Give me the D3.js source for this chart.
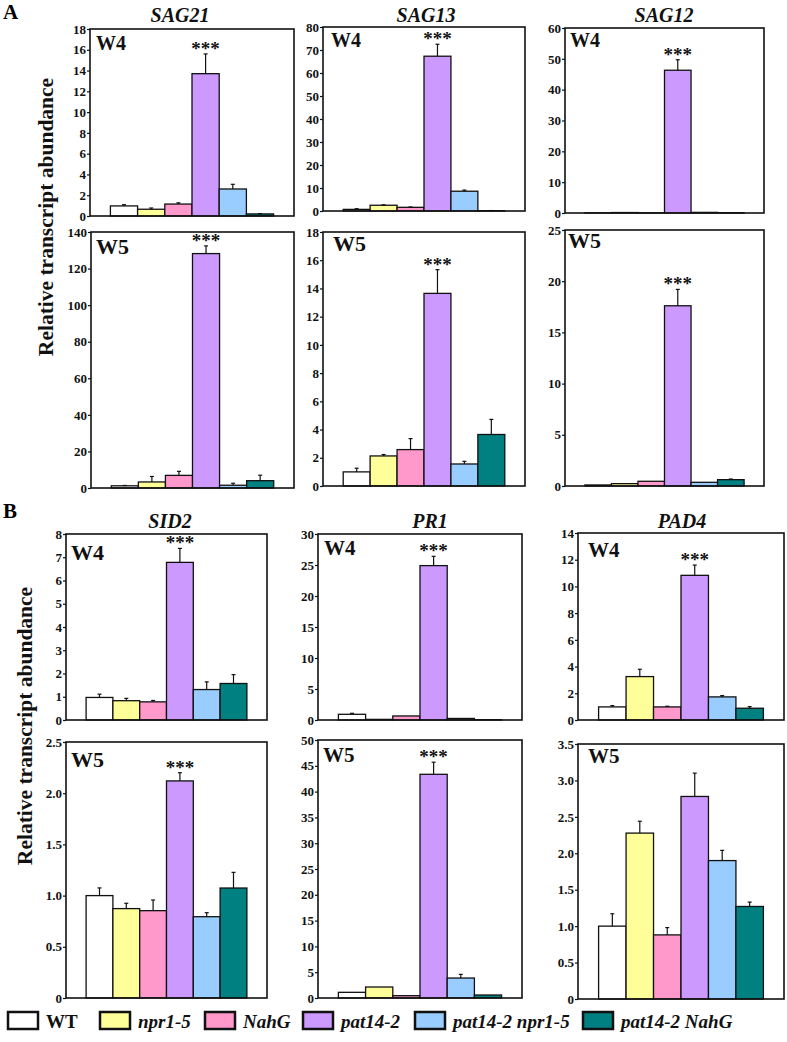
<!DOCTYPE html>
<html>
<head>
<meta charset="utf-8">
<script src="https://cdn.jsdelivr.net/npm/d3@7"></script>
<style>
  html, body { margin: 0; padding: 0; background: #fff; }
  svg { display: block; font-family: "Liberation Serif", "Times New Roman", serif; }
</style>
</head>
<body>
<div id="chart"></div>
<script>
// ---- Genotypes / legend ----
const genotypes = ['WT', 'npr1-5', 'NahG', 'pat14-2', 'pat14-2 npr1-5', 'pat14-2 NahG'];
const genotypeColors = ['#FFFFFF', '#FFFF99', '#FF99CC', '#CC99FF', '#99CCFF', '#008080'];

// ---- Panel A : senescence genes ----
const sag21W4 = [0.97, 0.65, 1.15, 13.7, 2.6, 0.2];
const sag21W4Err = [0.12, 0.12, 0.12, 1.9, 0.45, 0.03];
const sag13W4 = [0.7, 2.5, 1.6, 67.3, 8.6, 0.15];
const sag13W4Err = [0.3, 0.2, 0.15, 5.2, 0.5, 0.05];
const sag12W4 = [0.03, 0.15, 0.05, 46.3, 0.2, 0.1];
const sag12W4Err = [0, 0, 0, 3.4, 0, 0];

const sag21W5 = [1.2, 3.3, 6.9, 128.2, 1.5, 4.0];
const sag21W5Err = [0.2, 3.0, 2.2, 4.2, 1.1, 3.0];
const sag13W5 = [1.0, 2.13, 2.58, 13.65, 1.56, 3.65];
const sag13W5Err = [0.26, 0.1, 0.78, 1.68, 0.19, 1.07];
const sag12W5 = [0.1, 0.23, 0.46, 17.6, 0.36, 0.62];
const sag12W5Err = [0, 0, 0, 1.6, 0, 0.06];

// ---- Panel B : SA pathway genes ----
const sid2W4 = [0.97, 0.83, 0.78, 6.78, 1.31, 1.57];
const sid2W4Err = [0.14, 0.1, 0.06, 0.6, 0.33, 0.38];
const pr1W4 = [0.92, 0.1, 0.65, 24.9, 0.25, 0.05];
const pr1W4Err = [0.16, 0, 0, 1.5, 0, 0];
const pad4W4 = [0.98, 3.25, 0.98, 10.83, 1.73, 0.88];
const pad4W4Err = [0.1, 0.55, 0.05, 0.77, 0.1, 0.12];

const sid2W5 = [1.0, 0.873, 0.853, 2.12, 0.794, 1.074];
const sid2W5Err = [0.075, 0.052, 0.104, 0.08, 0.039, 0.153];
const pr1W5 = [1.1, 2.13, 0.45, 43.35, 3.87, 0.58];
const pr1W5Err = [0, 0, 0, 2.35, 0.71, 0];
const pad4W5 = [1.0, 2.277, 0.88, 2.78, 1.9, 1.27];
const pad4W5Err = [0.17, 0.163, 0.1, 0.32, 0.14, 0.06];

// ---- Axis settings per panel ----
const yMaxes = [18, 80, 60, 140, 18, 25, 8, 30, 14, 2.5, 50, 3.5];
const yTickSteps = [2, 10, 10, 20, 2, 5, 1, 5, 2, 0.5, 5, 0.5];
const panelGenes = ['SAG21', 'SAG13', 'SAG12', 'SAG21', 'SAG13', 'SAG12', 'SID2', 'PR1', 'PAD4', 'SID2', 'PR1', 'PAD4'];
const panelWeeks = ['W4', 'W4', 'W4', 'W5', 'W5', 'W5', 'W4', 'W4', 'W4', 'W5', 'W5', 'W5'];
const panelValues = [sag21W4, sag13W4, sag12W4, sag21W5, sag13W5, sag12W5, sid2W4, pr1W4, pad4W4, sid2W5, pr1W5, pad4W5];
const panelErrors = [sag21W4Err, sag13W4Err, sag12W4Err, sag21W5Err, sag13W5Err, sag12W5Err,
                     sid2W4Err, pr1W4Err, pad4W4Err, sid2W5Err, pr1W5Err, pad4W5Err];
const starIndex = 3; // pat14-2 marked ***
const panelStars = [true, true, true, true, true, true, true, true, true, true, true, false];

// ---- Layout (pixel boxes) ----
const layout = [
  { x: 90,  y: 29,  w: 204, h: 187, lx: 6,  ly: 21, ls: 20 },
  { x: 323, y: 27,  w: 202, h: 184, lx: 8,  ly: 20, ls: 20 },
  { x: 565, y: 28,  w: 199, h: 185, lx: 5,  ly: 19, ls: 20 },
  { x: 91,  y: 232, w: 203, h: 256, lx: 5,  ly: 22, ls: 22 },
  { x: 323, y: 232, w: 202, h: 254, lx: 10, ly: 19, ls: 22 },
  { x: 565, y: 230, w: 199, h: 256, lx: 3,  ly: 18, ls: 22 },
  { x: 66,  y: 534, w: 201, h: 186, lx: 5,  ly: 26, ls: 22 },
  { x: 318, y: 534, w: 204, h: 186, lx: 6,  ly: 21, ls: 21 },
  { x: 578, y: 533, w: 206, h: 187, lx: 10, ly: 24, ls: 21 },
  { x: 66,  y: 742, w: 201, h: 256, lx: 5,  ly: 25, ls: 22 },
  { x: 318, y: 740, w: 204, h: 258, lx: 5,  ly: 22, ls: 21 },
  { x: 578, y: 744, w: 206, h: 255, lx: 10, ly: 19, ls: 21 },
];
// gene title centres (x) and baselines (y), only top row of each block
const titlePos = [
  { i: 0, x: 180, y: 22 }, { i: 1, x: 426, y: 22 }, { i: 2, x: 664, y: 22 },
  { i: 6, x: 170, y: 528 }, { i: 7, x: 430, y: 528 }, { i: 8, x: 682, y: 528 },
];
const legendX = [8, 100, 205, 303, 415, 583];

const width = 787, height = 1042;

const svg = d3.select('#chart')
  .append('svg')
  .attr('width', width)
  .attr('height', height)
  .attr('viewBox', [0, 0, width, height]);

svg.append('rect').attr('width', width).attr('height', height).attr('fill', '#fff');

// ---- One bar panel ----
function drawPanel(i) {
  const box = layout[i];
  const values = panelValues[i];
  const errs = panelErrors[i];
  const rows = genotypes.map((name, k) => ({ name, value: values[k], err: errs[k], color: genotypeColors[k] }));

  const g = svg.append('g').attr('transform', `translate(${box.x},${box.y})`);

  const x = d3.scaleBand()
    .domain(genotypes)
    .range([0, box.w])
    .paddingInner(0)
    .paddingOuter(0.75);

  const y = d3.scaleLinear()
    .domain([0, yMaxes[i]])
    .range([box.h, 0]);

  const step = yTickSteps[i];
  const ticks = d3.range(0, yMaxes[i] + step / 2, step);
  const fmt = step < 1 ? (d => d === 0 ? '0' : d3.format('.1f')(d)) : d3.format('d');

  const axis = d3.axisLeft(y)
    .tickValues(ticks)
    .tickSize(3)
    .tickPadding(1)
    .tickFormat(fmt);

  const ax = g.append('g').call(axis);
  ax.select('.domain').remove();
  ax.selectAll('line').attr('stroke', '#111').attr('stroke-width', 1.2);
  ax.selectAll('text')
    .attr('fill', '#111')
    .attr('font-size', '13px')
    .attr('font-weight', 'bold')
    .attr('font-family', '"Liberation Serif", serif');

  // bars
  g.selectAll('.bar')
    .data(rows)
    .join('rect')
    .attr('class', 'bar')
    .attr('x', d => x(d.name))
    .attr('y', d => y(d.value))
    .attr('width', x.bandwidth())
    .attr('height', d => box.h - y(d.value))
    .attr('fill', d => d.color)
    .attr('stroke', '#111')
    .attr('stroke-width', 1.3);

  // error bars (upper only)
  const errRows = rows.filter(d => d.err > 0);
  const cx = d => x(d.name) + x.bandwidth() / 2;
  g.selectAll('.err')
    .data(errRows)
    .join('line')
    .attr('class', 'err')
    .attr('x1', cx).attr('x2', cx)
    .attr('y1', d => y(d.value)).attr('y2', d => y(d.value + d.err))
    .attr('stroke', '#111').attr('stroke-width', 1.2);
  g.selectAll('.cap')
    .data(errRows)
    .join('line')
    .attr('class', 'cap')
    .attr('x1', d => cx(d) - 2).attr('x2', d => cx(d) + 2)
    .attr('y1', d => y(d.value + d.err)).attr('y2', d => y(d.value + d.err))
    .attr('stroke', '#111').attr('stroke-width', 1.2);

  // frame
  g.append('rect')
    .attr('width', box.w)
    .attr('height', box.h)
    .attr('fill', 'none')
    .attr('stroke', '#111')
    .attr('stroke-width', 1.6);

  // week label
  g.append('text')
    .attr('x', box.lx)
    .attr('y', box.ly)
    .attr('font-size', box.ls + 'px')
    .attr('font-weight', 'bold')
    .attr('fill', '#111')
    .text(panelWeeks[i]);

  // significance
  if (panelStars[i]) {
    const d = rows[starIndex];
    g.append('text')
      .attr('x', cx(d))
      .attr('y', y(d.value + d.err) + 1)
      .attr('text-anchor', 'middle')
      .attr('font-size', '19px')
      .attr('font-weight', 'bold')
      .attr('fill', '#111')
      .text('***');
  }
}

d3.range(panelValues.length).forEach(drawPanel);

// ---- Gene titles ----
svg.selectAll('.gene-title')
  .data(titlePos)
  .join('text')
  .attr('class', 'gene-title')
  .attr('x', d => d.x)
  .attr('y', d => d.y)
  .attr('text-anchor', 'middle')
  .attr('font-size', '20px')
  .attr('font-weight', 'bold')
  .attr('font-style', 'italic')
  .attr('fill', '#111')
  .text(d => panelGenes[d.i]);

// ---- Block letters ----
svg.append('text').attr('x', 3).attr('y', 19).attr('font-size', '21px').attr('font-weight', 'bold').text('A');
svg.append('text').attr('x', 3).attr('y', 518).attr('font-size', '21px').attr('font-weight', 'bold').text('B');

// ---- Y titles ----
[{ x: 53, y: 217 }, { x: 32, y: 726 }].forEach(p => {
  svg.append('text')
    .attr('transform', `translate(${p.x},${p.y}) rotate(-90)`)
    .attr('text-anchor', 'middle')
    .attr('font-size', '21.5px')
    .attr('font-weight', 'bold')
    .attr('fill', '#111')
    .text('Relative transcript abundance');
});

// ---- Legend ----
const legend = svg.append('g').attr('class', 'legend');
const items = legend.selectAll('g')
  .data(genotypes.map((name, k) => ({ name, color: genotypeColors[k], x: legendX[k] })))
  .join('g')
  .attr('transform', d => `translate(${d.x},1012)`);

items.append('rect')
  .attr('width', 30)
  .attr('height', 17)
  .attr('fill', d => d.color)
  .attr('stroke', '#111')
  .attr('stroke-width', 2.5);

items.append('text')
  .attr('x', 38)
  .attr('y', 16)
  .attr('font-size', '19px')
  .attr('font-weight', 'bold')
  .attr('font-style', d => d.name === 'WT' ? 'normal' : 'italic')
  .attr('fill', '#111')
  .text(d => d.name);
</script>
</body>
</html>
